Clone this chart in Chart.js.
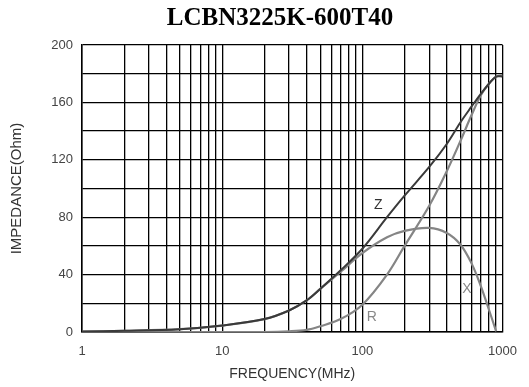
<!DOCTYPE html>
<html>
<head>
	<script type="text/javascript" src="https://cdn.jsdelivr.net/npm/chart.js@4"></script>
	<style>
		body { margin: 0; background: #fff; }
	</style>
</head>

<body>
	<div style="position: absolute; top: 0px; left: 0px; width: 529px; height: 387px">
		<canvas id="chartImp"></canvas>
	</div>

	<script type="text/javascript">
		// frequency points (MHz)
		var freq = [1, 2, 5, 10, 20, 30, 40, 50, 70, 100, 150, 200, 300, 400, 500, 600, 700, 800, 900, 1000];
		var zValues = [0.3, 0.8, 2, 4.5, 9, 15, 22, 30, 43, 58, 80, 95, 115, 131, 146, 157, 166, 173, 178, 178];
		var rValues = [0, 0, 0, 0, 0, 0.5, 1.5, 4, 9, 19, 40, 60, 88, 112, 133, 151, 165, 173, 178, 179];
		var xValues = [0.3, 0.8, 2, 4.5, 9, 15, 22, 30, 42, 55, 66, 70.5, 72.5, 69, 61, 48, 32, 15.5, 0.5, null];

		// log grid lines and the labelled ones
		var freqGrid = [1, 2, 3, 4, 5, 6, 7, 8, 9, 10, 20, 30, 40, 50, 60, 70, 80, 90, 100, 200, 300, 400, 500, 600, 700, 800, 900, 1000];
		var freqLabels = [1, 10, 100, 1000];

		// curve names written on the chart
		var curveNames = ['Z', 'R', 'X'];
		var nameFreq = [130, 117, 558];
		var nameImp = [88.5, 10.7, 29.7];

		function toPoints(values) {
			var pts = [];
			for (var i = 0; i < freq.length; i++) {
				if (values[i] !== null) pts.push({ x: freq[i], y: values[i] });
			}
			return pts;
		}

		var titlePlugin = {
			id: 'titleText',
			afterDraw: function(chart) {
				var ctx = chart.ctx;
				ctx.save();
				ctx.fillStyle = '#000';
				ctx.font = 'bold 25px "Liberation Serif", "Times New Roman", serif';
				ctx.textAlign = 'center';
				ctx.textBaseline = 'middle';
				ctx.fillText('LCBN3225K-600T40', 280, 19);

				var xs = chart.scales.x, ys = chart.scales.y;
				ctx.font = '14px "Liberation Sans", Arial, sans-serif';
				for (var i = 0; i < curveNames.length; i++) {
					ctx.fillStyle = i == 0 ? '#333' : '#888';
					ctx.fillText(curveNames[i], xs.getPixelForValue(nameFreq[i]), ys.getPixelForValue(nameImp[i]));
				}
				ctx.restore();
			}
		};

		var ctx = document.getElementById('chartImp').getContext('2d');

		var chart = new Chart(ctx, {
			type: 'line',
			data: {
				datasets: [{
					label: 'Z',
					data: toPoints(zValues),
					borderColor: '#3a3a3a',
					borderWidth: 2,
					pointRadius: 0,
					tension: 0.35
				}, {
					label: 'R',
					data: toPoints(rValues),
					borderColor: '#858585',
					borderWidth: 2.2,
					pointRadius: 0,
					tension: 0.35
				}, {
					label: 'X',
					data: toPoints(xValues),
					borderColor: '#858585',
					borderWidth: 2.2,
					pointRadius: 0,
					tension: 0.35
				}]
			},
			options: {
				responsive: true,
				maintainAspectRatio: false,
				animation: false,
				layout: { padding: { top: 45, right: 17, left: 0, bottom: 0 } },
				plugins: {
					legend: { display: false },
					tooltip: { enabled: false }
				},
				scales: {
					x: {
						type: 'logarithmic',
						min: 1,
						max: 1000,
						afterBuildTicks: function(scale) {
							scale.ticks = freqGrid.map(function(v) { return { value: v }; });
						},
						afterFit: function(scale) { scale.height = 55; },
						ticks: {
							autoSkip: false,
							maxRotation: 0,
							padding: 12,
							color: '#444',
							font: { family: '"Liberation Sans", Arial, sans-serif', size: 13 },
							callback: function(value) {
								return freqLabels.indexOf(value) >= 0 ? String(value) : '';
							}
						},
						grid: { color: '#000', lineWidth: 1.3, drawTicks: false },
						border: { color: '#000', width: 1.5 },
						title: {
							display: true,
							text: 'FREQUENCY(MHz)',
							color: '#333',
							font: { family: '"Liberation Sans", Arial, sans-serif', size: 14 },
							padding: { top: 0, bottom: 4 }
						}
					},
					y: {
						min: 0,
						max: 200,
						afterFit: function(scale) { scale.width = 82; },
						ticks: {
							stepSize: 20,
							padding: 9,
							color: '#444',
							font: { family: '"Liberation Sans", Arial, sans-serif', size: 13 },
							callback: function(value) {
								return value % 40 == 0 ? String(value) : '';
							}
						},
						grid: { color: '#000', lineWidth: 1.3, drawTicks: false },
						border: { color: '#000', width: 1.5 },
						title: {
							display: true,
							text: 'IMPEDANCE(Ohm)',
							color: '#333',
							font: { family: '"Liberation Sans", Arial, sans-serif', size: 15 },
							padding: { top: 8, bottom: 0 }
						}
					}
				}
			},
			plugins: [titlePlugin]
		});
	</script>

</body>

</html>
